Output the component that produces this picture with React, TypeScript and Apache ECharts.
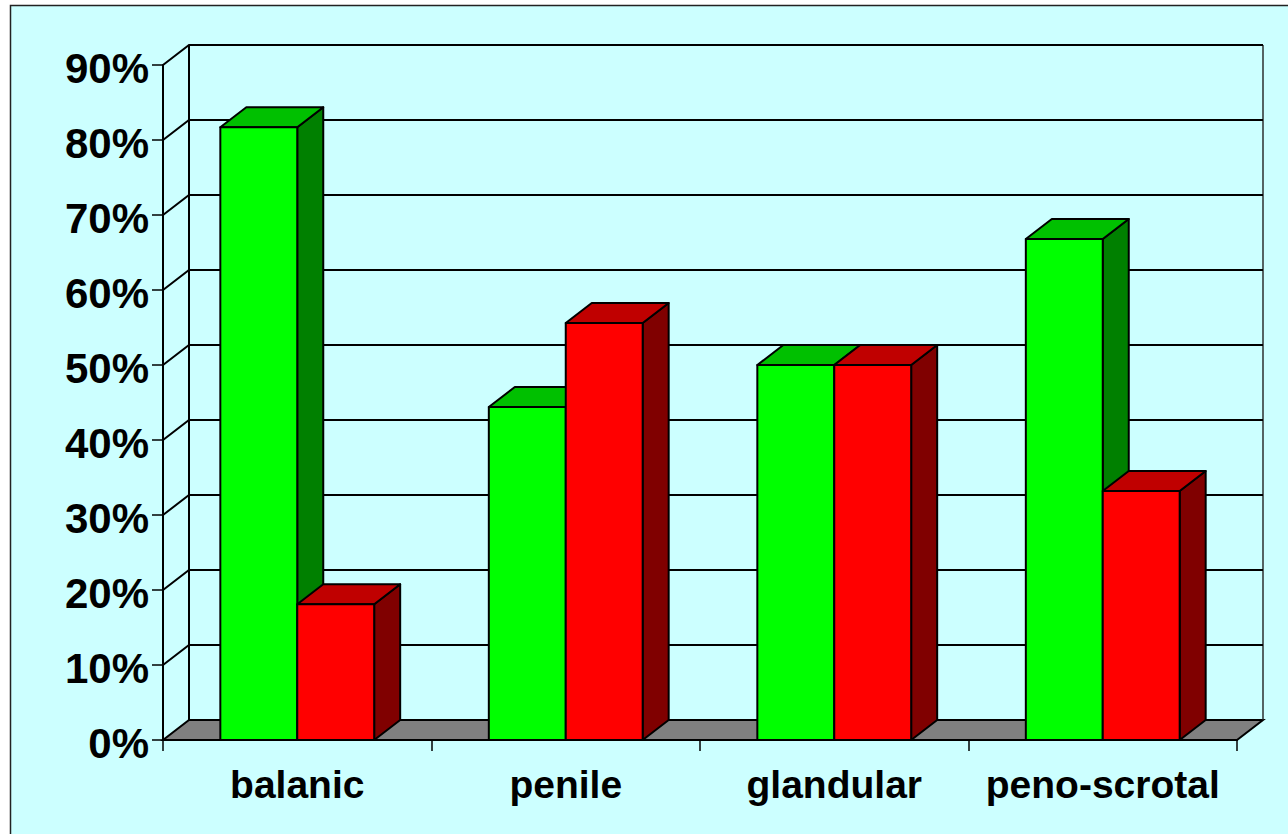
import React, { useEffect, useRef } from "react";
import * as echarts from "echarts";

const categories = ["balanic", "penile", "glandular", "peno-scrotal"];
const greenValues = [81.7, 44.4, 50, 66.8];
const redValues = [18.1, 55.6, 50, 33.2];
const gridTicks = [0, 10, 20, 30, 40, 50, 60, 70, 80, 90];

const DX = 26;
const DY = -20;
const BAR_RATIO = 0.2865;
const INK = "#000000";
const FONT = '"Liberation Sans", Arial, sans-serif';

function barRenderer(barIndex: number, front: string, top: string, side: string) {
  return (params: any, api: any) => {
    const band = api.size([1, 0])[0];
    const w = band * BAR_RATIO;
    const p = api.coord([api.value(0), api.value(1)]);
    const base = api.coord([api.value(0), 0]);
    const x0 = p[0] + (barIndex - 1) * w;
    const x1 = x0 + w;
    const yt = p[1];
    const yb = base[1];
    const st = { stroke: INK, lineWidth: 2, lineJoin: "round" };
    return {
      type: "group",
      children: [
        {
          type: "polygon",
          shape: { points: [[x1, yb], [x1 + DX, yb + DY], [x1 + DX, yt + DY], [x1, yt]] },
          style: { fill: side, ...st },
        },
        {
          type: "polygon",
          shape: { points: [[x0, yt], [x0 + DX, yt + DY], [x1 + DX, yt + DY], [x1, yt]] },
          style: { fill: top, ...st },
        },
        {
          type: "rect",
          shape: { x: x0, y: yt, width: w, height: yb - yt },
          style: { fill: front, ...st },
        },
      ],
    };
  };
}

function wallRenderer(params: any, api: any) {
  const g = params.coordSys;
  const v = api.value(0);
  const y = api.coord([0, v])[1];
  const xl = g.x;
  const xr = g.x + g.width;
  const children: any[] = [];
  if (v === 0) {
    children.push({
      type: "polygon",
      shape: { points: [[xl, y], [xl + DX, y + DY], [xr + DX, y + DY], [xr, y]] },
      style: { fill: "#808080", stroke: INK, lineWidth: 2 },
    });
    children.push({
      type: "line",
      shape: { x1: xl + DX, y1: y + DY, x2: xl + DX, y2: g.y + DY },
      style: { stroke: INK, lineWidth: 2 },
    });
    children.push({
      type: "line",
      shape: { x1: xr + DX, y1: y + DY, x2: xr + DX, y2: g.y + DY },
      style: { stroke: "#222222", lineWidth: 1.4 },
    });
  } else {
    children.push({
      type: "polyline",
      shape: { points: [[xl, y], [xl + DX, y + DY], [xr + DX, y + DY]] },
      style: { fill: "none", stroke: INK, lineWidth: 2 },
    });
  }
  return { type: "group", children };
}

export default function App() {
  const ref = useRef<HTMLDivElement>(null);
  useEffect(() => {
    document.body.style.margin = "0";
    document.body.style.background = "#ffffff";
    const chart = echarts.init(ref.current!, null, { renderer: "svg" });
    chart.setOption({
      animation: false,
      backgroundColor: "#ffffff",
      graphic: [
        {
          type: "rect",
          z: -10,
          shape: { x: 10.5, y: 5.5, width: 1277.5, height: 828.5 },
          style: { fill: "#CCFFFF" },
        },
        {
          type: "polyline",
          z: -9,
          shape: { points: [[10.5, 834], [10.5, 5.5], [1288, 5.5]] },
          style: { fill: "none", stroke: "#222222", lineWidth: 1.5 },
        },
      ],
      grid: { left: 163, top: 65, width: 1074, height: 675, containLabel: false },
      xAxis: {
        type: "category",
        data: categories,
        axisLine: { show: true, lineStyle: { color: INK, width: 2 } },
        axisTick: { show: true, length: 11, alignWithLabel: false, lineStyle: { color: INK, width: 1.5 } },
        axisLabel: {
          interval: 0,
          color: INK,
          fontFamily: FONT,
          fontWeight: "bold",
          fontSize: 39,
          margin: 25,
        },
        splitLine: { show: false },
      },
      yAxis: {
        type: "value",
        min: 0,
        max: 90,
        interval: 10,
        axisLine: { show: true, lineStyle: { color: INK, width: 2 } },
        axisTick: { show: true, length: 11, lineStyle: { color: INK, width: 1.5 } },
        axisLabel: {
          color: INK,
          fontFamily: FONT,
          fontWeight: "bold",
          fontSize: 42,
          margin: 14,
          verticalAlign: "top",
          lineHeight: 6,
          formatter: "{value}%",
        },
        splitLine: { show: false },
      },
      series: [
        {
          type: "custom",
          name: "wall",
          coordinateSystem: "cartesian2d",
          z: 1,
          clip: false,
          silent: true,
          encode: { y: 0 },
          data: gridTicks.map((t) => [t]),
          renderItem: wallRenderer,
        },
        {
          type: "custom",
          name: "green",
          z: 3,
          clip: false,
          encode: { x: 0, y: 1 },
          data: greenValues.map((v, i) => [i, v]),
          renderItem: barRenderer(0, "#00FF00", "#00C000", "#008000"),
        },
        {
          type: "custom",
          name: "red",
          z: 4,
          clip: false,
          encode: { x: 0, y: 1 },
          data: redValues.map((v, i) => [i, v]),
          renderItem: barRenderer(1, "#FF0000", "#C00000", "#800000"),
        },
      ],
    });
    return () => chart.dispose();
  }, []);
  return <div ref={ref} style={{ width: 1288, height: 834 }} />;
}
